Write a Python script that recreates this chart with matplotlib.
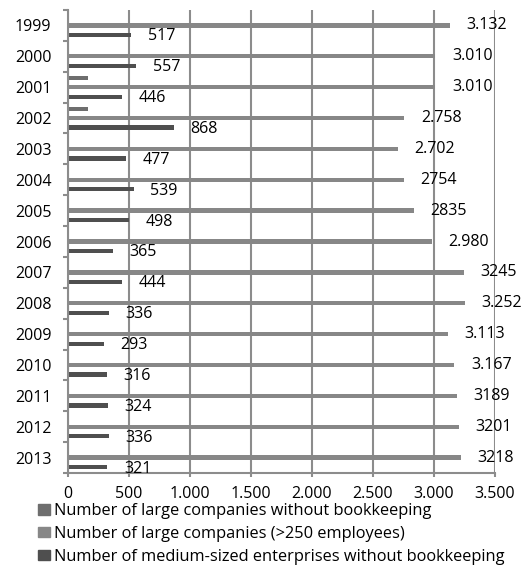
import matplotlib
matplotlib.use("Agg")
import matplotlib.pyplot as plt
from matplotlib.patches import Patch
from matplotlib.ticker import FuncFormatter, MultipleLocator

plt.rcParams['font.family'] = ['Open Sans', 'DejaVu Sans']

years = ['1999', '2000', '2001', '2002', '2003', '2004', '2005', '2006',
         '2007', '2008', '2009', '2010', '2011', '2012', '2013']

# labels are printed as written in the source table (mixed separators)
large_labels = ['3.132', '3.010', '3.010', '2.758', '2.702', '2754', '2835', '2.980',
                '3245', '3.252', '3.113', '3.167', '3189', '3201', '3218']
large = [int(s.replace('.', '')) for s in large_labels]
medium_no_books = [517, 557, 446, 868, 477, 539, 498, 365,
                   444, 336, 293, 316, 324, 336, 321]
large_no_books = [0, 0, 160, 160, 0, 0, 0, 0, 0, 0, 0, 0, 0, 0, 0]

names = ['Number of large companies without bookkeeping',
         'Number of large companies (>250 employees)',
         'Number of medium-sized enterprises without bookkeeping']
colors = ['#6e6e6e', '#878787', '#4f4f4f']
grid_col = '#8c8c8c'
fs = 11.5

fig = plt.figure(figsize=(5.23, 5.67), dpi=100)
ax = fig.add_axes([68 / 523, 1 - 473 / 567, 427 / 523, 463 / 567])

pos = list(range(len(years)))
h = 0.14
ax.barh([p - 0.30 for p in pos], large_no_books, height=h, color=colors[0], lw=0)
ax.barh(pos, large, height=h, color=colors[1], lw=0)
ax.barh([p + 0.31 for p in pos], medium_no_books, height=h, color=colors[2], lw=0)

for p, v, s in zip(pos, large, large_labels):
    ax.annotate(s, (v, p), xytext=(12, 0), textcoords='offset points',
                ha='left', va='center', fontsize=fs, color='black')
for p, v in zip(pos, medium_no_books):
    ax.annotate(str(v), (v, p + 0.31), xytext=(12, -1), textcoords='offset points',
                ha='left', va='center', fontsize=fs, color='black')

ax.set_xlim(0, 3500)
ax.set_ylim(len(years) - 0.5, -0.5)
ax.xaxis.set_major_locator(MultipleLocator(500))
ax.xaxis.set_major_formatter(FuncFormatter(lambda x, _: f'{int(x):,}'.replace(',', '.')))
ax.set_yticks(pos)
ax.set_yticklabels(years)
ax.set_yticks([p - 0.5 for p in range(len(years) + 1)], minor=True)

ax.set_axisbelow(True)
ax.grid(axis='x', color=grid_col, lw=1.5)
for side in ['top', 'right']:
    ax.spines[side].set_visible(False)
for side in ['left', 'bottom']:
    ax.spines[side].set_color(grid_col)
    ax.spines[side].set_linewidth(1.5)

ax.tick_params(axis='y', which='major', length=0, pad=12, labelsize=fs)
ax.tick_params(axis='y', which='minor', length=3.6, width=1.5, color=grid_col)
ax.tick_params(axis='x', which='major', length=3, width=1.5, color=grid_col,
               pad=6.5, labelsize=fs)

handles = [Patch(color=c, label=n) for c, n in zip(colors, names)]
fig.legend(handles=handles, loc='upper left', bbox_to_anchor=(38 / 523, 1 - 503 / 567),
           frameon=False, fontsize=11.8, handlelength=0.72, handleheight=0.62,
           handletextpad=0.28, labelspacing=0.42, borderpad=0, borderaxespad=0)

fig.savefig('out.png', dpi=100)
